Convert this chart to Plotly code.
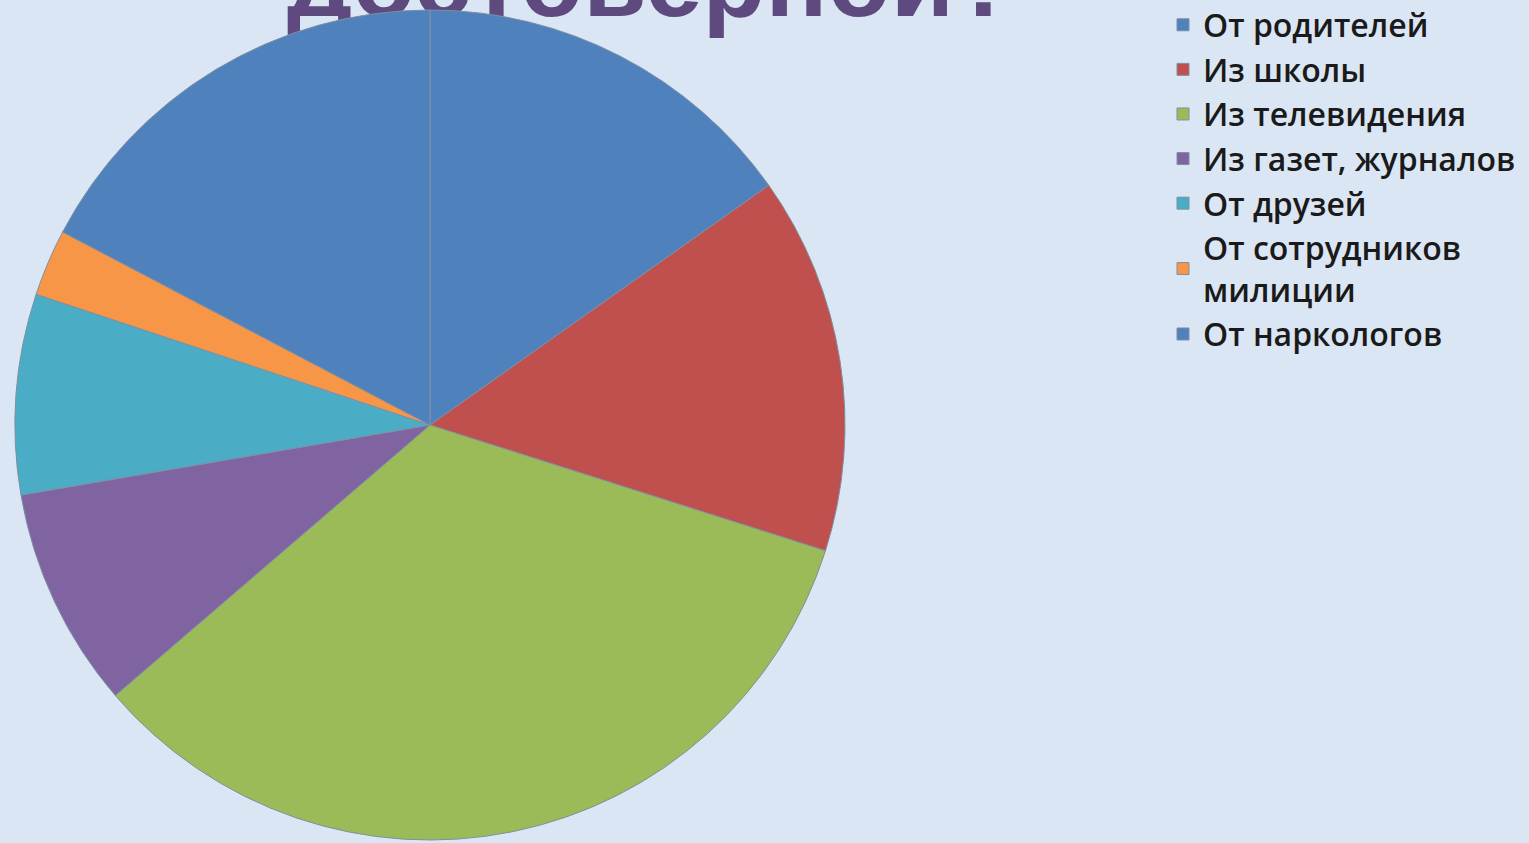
import plotly.graph_objects as go

labels = ["От родителей", "Из школы", "Из телевидения", "Из газет, журналов",
          "От друзей", "От сотрудников<br>милиции", "От наркологов"]
values = [15.2, 14.7, 33.8, 8.6, 7.8, 2.6, 17.3]
colors = ["#4F81BD", "#C0504D", "#9BBB59", "#8064A2", "#4BACC6", "#F79646", "#4F81BD"]
title_text = ["достоверной?"]

W, H = 1529, 843
cx, cy, r = 430, 425, 415

fig = go.Figure()

# title drawn as a text trace so it sits underneath the pie (as in the reference)
fig.add_trace(go.Scatter(
    x=[652], y=[H - 42], text=title_text, mode="text", textposition="top center",
    textfont=dict(family="Liberation Sans", size=103, color="#5E4A7E", weight="bold"),
    hoverinfo="skip", showlegend=False, cliponaxis=False,
))

fig.add_trace(go.Pie(
    labels=labels, values=values, sort=False, direction="clockwise", rotation=0,
    marker=dict(colors=colors, line=dict(color="#7f8fa3", width=1)),
    textinfo="none", hoverinfo="label+percent",
    domain=dict(x=[(cx - r) / W, (cx + r) / W], y=[1 - (cy + r) / H, 1 - (cy - r) / H]),
))

fig.update_layout(
    width=W, height=H, margin=dict(l=0, r=0, t=0, b=0, autoexpand=False),
    paper_bgcolor="#dae6f4", plot_bgcolor="rgba(0,0,0,0)",
    xaxis=dict(range=[0, W], visible=False, fixedrange=True),
    yaxis=dict(range=[0, H], visible=False, fixedrange=True),
    showlegend=True,
    legend=dict(x=1163 / W, y=1.003, xanchor="left", yanchor="top",
                font=dict(family="Open Sans", size=32, color="#1a1a1a", weight=600),
                bgcolor="rgba(0,0,0,0)", traceorder="normal"),
)

fig.write_html("out.html")
